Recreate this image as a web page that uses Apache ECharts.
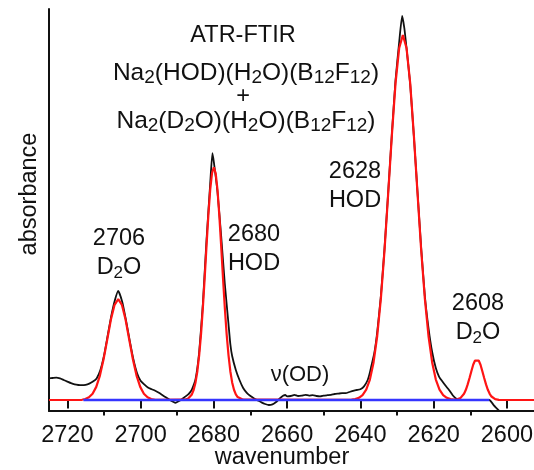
<!DOCTYPE html>
<html>
<head>
<meta charset="utf-8">
<script src="https://cdn.jsdelivr.net/npm/echarts@6/dist/echarts.min.js"></script>
<style>
html,body{margin:0;padding:0;background:#fff;}
#chart{width:534px;height:470px;}
</style>
</head>
<body>
<div id="chart"></div>
<script>
// ---- data ----
const spectrum = [
[2725,5.4],[2724,5.5],[2723,5.6],[2722,5.4],[2721,5.0],[2720,4.6],[2719,4.2],[2718,3.9],[2717,3.75],[2716,3.7],[2715,3.8],[2714,4.1],[2713,4.6],[2712,5.4],[2711,7.4],
[2710,11],[2709,16],[2708,21],[2707,25],[2706.1,27.3],[2705,24.5],[2704,20],[2703,15],[2702,10.3],[2701,6.8],[2700,4.8],[2699,3.9],[2698,3.1],[2697,2.7],[2696,2.3],[2695,1.8],[2694,1.2],[2693,0.6],[2692,0.0],[2691,-0.5],[2690.5,-0.7],[2690,-0.5],[2689,0.0],[2688,0.7],[2687,1.4],[2686.5,1.9],[2686,2.6],
[2685,5.2],[2684,12],[2683,24],[2682,40],[2681,54],[2680.4,61.7],[2680,59.5],[2679,52],[2678,41],[2677,29],[2676,19],[2675.5,14],[2675,11],[2674,7.5],[2673,5],[2672,3],[2671,1.8],[2670,1.0],[2669,0.4],[2668,-0.1],[2667,-0.6],[2666,-1.0],[2665,-1.25],[2664,-1.1],[2663,-0.5],[2662,0.4],[2661,1.1],[2660.5,1.25],[2660,0.9],
[2659,1.0],[2658,1.3],[2657,1.0],[2656,1.1],[2655,1.3],[2654,1.1],[2653,1.2],[2652,1.0],[2651,0.9],[2650,1.1],[2649,1.2],[2648,1.3],[2647,1.5],[2646,1.6],[2645,1.7],[2644,1.7],[2643,2.0],[2642,2.3],[2641,2.5],[2640,2.7],[2639,3.4],[2638,5.0],[2637.5,6.5],[2637,8.5],[2636.2,11.7],
[2635.4,17],[2634.4,26],[2633.4,38],[2632.4,52],[2631.4,66.5],[2630.4,80],[2629.4,89.5],[2628.6,96],[2628,93],[2627.4,88],[2626.4,79],[2625.4,66],[2624.4,52],[2623.4,38],[2622.4,26],[2621.4,18],[2620.4,12],[2619.4,8],[2618.5,5.8],[2617.5,4.5],[2616.5,3.3],[2615.8,2.5],[2614.8,1.2],[2613.9,0.4],[2613,0.1],[2610,0],[2607,0],[2604.8,0],[2603.5,-1.4],[2602.1,-2.7]
];
const fitCurve = [
[2725,0],[2716,0.05],[2715.1,0.26],[2714.1,0.67],[2713.1,1.57],[2712.1,3.28],[2711.1,6.1],[2710.1,10.2],[2709.1,15.1],[2708.1,20.1],[2707.1,23.8],[2706.1,25.2],[2705.1,23.8],[2704.1,20.1],[2703.1,15.1],[2702.1,10.2],[2701.1,6.1],[2700.1,3.28],[2699.1,1.57],[2698.1,0.67],[2697.1,0.26],[2696,0.05],
[2688,0.08],[2687,0.37],[2686.5,0.74],[2686,1.4],[2685.5,2.56],[2685,4.4],[2684.5,7.2],[2684,11.2],[2683.5,16.4],[2683,23.0],[2682.5,30.5],[2682,38.5],[2681.5,46.1],[2681,52.5],[2680.5,56.7],[2680,58.2],[2679.5,56.7],[2679,52.5],[2678.5,46.1],[2678,38.5],[2677.5,30.5],[2677,23.0],[2676.5,16.4],[2676,11.2],[2675.5,7.2],[2675,4.4],[2674.5,2.56],[2674,1.4],[2673.5,0.74],[2673,0.37],[2672,0.08],
[2643,0.05],[2642.4,0.09],[2641.4,0.22],[2640.4,0.55],[2639.4,1.24],[2638.4,2.6],[2637.4,5.1],[2636.4,9.4],[2635.4,16.0],[2634.4,25.4],[2633.4,37.5],[2632.4,51.7],[2631.4,66.2],[2630.4,79.2],[2629.4,88.0],[2628.4,91.25],[2627.4,88.0],[2626.4,79.2],[2625.4,66.2],[2624.4,51.7],[2623.4,37.5],[2622.4,25.4],[2621.4,16.0],[2620.4,9.4],[2619.4,5.1],[2618.4,2.6],[2617.4,1.24],[2616.4,0.55],[2615.4,0.22],[2614.4,0.1],[2613.7,0.1],
[2613.2,0.24],[2612.7,0.47],[2612.2,0.87],[2611.7,1.55],[2611.2,2.55],[2610.7,3.9],[2610.2,5.5],[2609.7,7.2],[2609.2,8.8],[2608.7,9.86],[2608.2,10.25],[2607.7,9.86],[2607.2,8.8],[2606.7,7.2],[2606.2,5.5],[2605.7,3.9],[2605.2,2.55],[2604.7,1.55],[2604.2,0.87],[2603.7,0.45],[2603.2,0.22],[2602.2,0.04],[2601,0],[2590,0]
];
const baselineRange = [2715.6, 2604.8];
const xTickValues = [2600, 2620, 2640, 2660, 2680, 2700, 2720];
const xMinorTickValues = [2610, 2630, 2650, 2670, 2690, 2710];
const xRange = [2592.6, 2725];
const yRange = [-2.75, 97.75];
const titleLines = ['ATR-FTIR',
  '{n|Na}{s|2}{n|(HOD)(H}{s|2}{n|O)(B}{s|12}{n|F}{s|12}{n|)}',
  '+',
  '{n|Na}{s|2}{n|(D}{s|2}{n|O)(H}{s|2}{n|O)(B}{s|12}{n|F}{s|12}{n|)}'];
const bandLabels = [
  ['2706', '{n|D}{s|2}{n|O}'],
  ['2680', '{n|HOD}'],
  ['2628', '{n|HOD}'],
  ['2608', '{n|D}{s|2}{n|O}']
];
const modeLabel = 'ν(OD)';
const xName = 'wavenumber';
const yName = 'absorbance';

// ---- styling / layout ----
const FONT = '"Liberation Sans", Arial, Helvetica, sans-serif';
const FS = 23.5;
function rich(fs, subRatio) {
  return {
    n: {fontSize: fs, fontFamily: FONT, fill: '#111', lineHeight: fs + 4},
    s: {fontSize: Math.round(fs * subRatio), fontFamily: FONT, fill: '#111', verticalAlign: 'bottom', lineHeight: Math.round(fs * 0.62)}
  };
}
function txt(text, x, y, fs, extra, subRatio) {
  return Object.assign({
    type: 'text', x: x, y: y, z: 100,
    style: {
      text: text, fontSize: fs, fontFamily: FONT, fill: '#111',
      align: 'center', verticalAlign: 'middle',
      textAlign: 'center', textVerticalAlign: 'middle',
      rich: rich(fs, subRatio || 0.74)
    }
  }, extra || {});
}
const labelPos = [[119, 239], [254, 235], [355, 172], [478, 304]];
const graphics = [];
graphics.push(txt(titleLines[0], 243, 36, FS));
graphics.push(txt(titleLines[1], 246, 73, 24.5, null, 0.78));
graphics.push(txt(titleLines[2], 243, 97, FS));
graphics.push(txt(titleLines[3], 246, 121, 24.5, null, 0.78));
bandLabels.forEach(function (b, i) {
  graphics.push(txt(b[0], labelPos[i][0], labelPos[i][1], FS));
  graphics.push(txt(b[1], labelPos[i][0], labelPos[i][1] + 29, FS));
});
graphics.push(txt(modeLabel, 300, 375, 22));
graphics.push(txt(xName, 282, 458, FS));
graphics.push(txt(yName, 30, 194, FS, {rotation: Math.PI / 2}));

function tickAxis(values, len) {
  return {
    type: 'value', inverse: true, min: xRange[0], max: xRange[1], position: 'bottom', offset: 0,
    axisLine: {show: false},
    axisTick: {show: true, inside: false, length: len, customValues: values, lineStyle: {color: '#111', width: 2}},
    axisLabel: {show: false},
    splitLine: {show: false}
  };
}

const chart = echarts.init(document.getElementById('chart'), null, {renderer: 'canvas'});
chart.setOption({
  animation: false,
  backgroundColor: '#fff',
  grid: {left: 49, right: 0, top: 9, bottom: 59, containLabel: false, outerBoundsMode: 'none'},
  xAxis: [{
    type: 'value', inverse: true, min: xRange[0], max: xRange[1], position: 'bottom',
    axisLine: {show: true, onZero: false, lineStyle: {color: '#111', width: 2}},
    axisTick: {show: false},
    axisLabel: {show: true, customValues: xTickValues, margin: 13, fontSize: FS, fontFamily: FONT, color: '#111',
      formatter: function (v) { return String(Math.round(v)); }},
    splitLine: {show: false}
  }, tickAxis(xTickValues, 8.5), tickAxis(xMinorTickValues, 4.5)],
  yAxis: {
    type: 'value', min: yRange[0], max: yRange[1],
    axisLine: {show: true, onZero: false, lineStyle: {color: '#111', width: 2}},
    axisTick: {show: false}, axisLabel: {show: false}, splitLine: {show: false}
  },
  series: [{
    type: 'line', name: 'spectrum', data: spectrum, showSymbol: false, symbol: 'none',
    lineStyle: {color: '#111', width: 1.8}, z: 2, smooth: 0.15
  }, {
    type: 'line', name: 'fit', data: fitCurve, showSymbol: false, symbol: 'none',
    lineStyle: {color: '#ff1414', width: 2.2}, z: 3
  }, {
    type: 'line', name: 'baseline', data: [[baselineRange[0], 0], [baselineRange[1], 0]], showSymbol: false, symbol: 'none',
    lineStyle: {color: '#3535ff', width: 2.4}, z: 4
  }],
  graphic: graphics
});
</script>
</body>
</html>
